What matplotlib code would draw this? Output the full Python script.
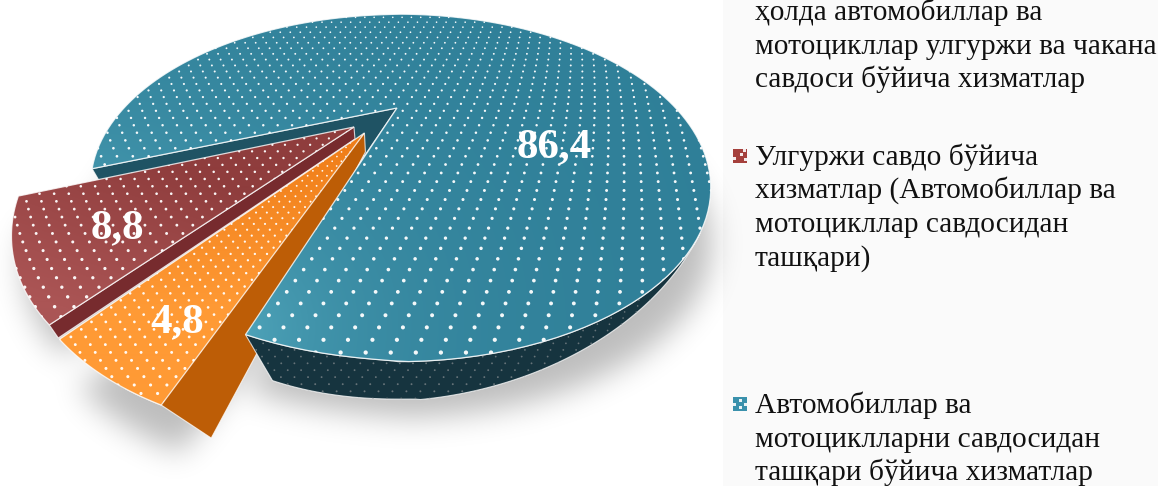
import numpy as np
import matplotlib
matplotlib.use("Agg")
import matplotlib.pyplot as plt
from matplotlib.patches import Polygon, Rectangle
from matplotlib.path import Path

# ---------- data ----------
slice_names = ["Автомобиллар савдоси", "Улгуржи савдо", "Автомобиллар ва мотоцикллар"]
values = [4.8, 8.8, 86.4]            # clockwise, orange first
value_labels = ["4,8", "8,8", "86,4"]
legend_first = ["ҳолда автомобиллар ва", "мотоцикллар улгуржи ва чакана", "савдоси бўйича хизматлар"]
legend_second = ["Улгуржи савдо бўйича", "хизматлар (Автомобиллар ва", "мотоцикллар савдосидан", "ташқари)"]
legend_third = ["Автомобиллар ва", "мотоциклларни савдосидан", "ташқари бўйича хизматлар"]

W, H = 1159, 486
SERIF = "Liberation Serif"

# ---------- projection of the tilted disc ----------
CX, CY, A, B, P = 397.0, 108.0, 278.6, 137.0, 0.46


def project(u, v):
    u, v = np.asarray(u, float), np.asarray(v, float)
    w = 1 - P * v
    return CX + A * u / w, CY + B * v / w


def disc(theta, r=1.0, origin=(0.0, 0.0)):
    t = np.radians(theta)
    return origin[0] + r * np.sin(t), origin[1] - r * np.cos(t)


def blue_radius(theta):
    """The big slice is drawn slightly flattened on its left side."""
    return 1 - 0.02 * np.sqrt(np.clip(-np.sin(np.radians(theta)), 0, 1))


def wedge_xy(t0, t1, r, origin):
    th = np.linspace(t0, t1, 160)
    rr = r(th) if callable(r) else r
    x, y = project(*disc(th, rr, origin))
    ax_, ay_ = project(*origin)
    return np.column_stack([np.r_[ax_, x], np.r_[ay_, y]])


START = 199.0
BLUE_TRIM = 0.8
spans = np.array(values) / sum(values) * 360
edges = START + np.r_[0, np.cumsum(spans)]
orange_t = (edges[0], edges[1])
red_t = (edges[1], edges[2])
blue_t = (edges[2], edges[3] - BLUE_TRIM)

explode = [0.20, 0.195, 0.0]
explode_dir = [5.0, -4.0, 0.0]
orig = []
for i in range(3):
    m = (edges[i] + edges[i + 1]) / 2 + explode_dir[i]
    orig.append(disc(m, explode[i]))

RADII = [0.97, 0.975, blue_radius]
orange_xy = wedge_xy(*orange_t, RADII[0], orig[0])
red_xy = wedge_xy(*red_t, RADII[1], orig[1])
blue_xy = wedge_xy(*blue_t, RADII[2], orig[2])

fig = plt.figure(figsize=(W / 100, H / 100), dpi=100, facecolor="white")
ax = fig.add_axes([0, 0, 1, 1])
ax.axis("off")
ax.add_patch(Rectangle((723, 0), 435, H, fc="#fafafa", ec="none", zorder=0))

# ---------- soft shadow ----------
STEP = 2
gx, gy = np.meshgrid(np.arange(0, W, STEP) + 1.0, np.arange(0, H + 80, STEP) + 1.0)
pts = np.column_stack([gx.ravel(), gy.ravel()])


def blur(a, sig):
    r = int(3 * sig)
    k = np.exp(-0.5 * (np.arange(-r, r + 1) / sig) ** 2)
    k /= k.sum()
    a = np.apply_along_axis(lambda m: np.convolve(m, k, mode="same"), 0, a)
    return np.apply_along_axis(lambda m: np.convolve(m, k, mode="same"), 1, a)


mask = np.zeros(gx.shape)
for poly, (dx, dy) in [(blue_xy, (2, 56)), (red_xy, (12, 30)), (orange_xy, (20, 48))]:
    inside = Path(poly + [dx, dy]).contains_points(pts).reshape(gx.shape)
    mask = np.maximum(mask, inside.astype(float))
mask = blur(mask, 7.5)   # grid cells, so about 15 px
shadow = np.zeros(mask.shape + (4,))
shadow[..., 3] = mask * 0.26
ax.imshow(shadow, extent=(0, W, H + 80, 0), zorder=1, interpolation="bilinear", aspect="auto")

# ---------- gradient helpers ----------
yy, xx = np.mgrid[0:H, 0:W]


def rgb(c):
    return np.array(matplotlib.colors.to_rgb(c))


def gradient(c0, c1, t, zorder, poly_xy, edge=True):
    t = np.clip(t, 0, 1)[..., None]
    img = rgb(c0) * (1 - t) + rgb(c1) * t
    im = ax.imshow(img, extent=(0, W, H, 0), zorder=zorder, interpolation="bilinear", aspect="auto")
    patch = Polygon(poly_xy, closed=True, fc="none",
                    ec=(1, 1, 1, 0.8) if edge else "none", lw=0.9, zorder=zorder + 0.2)
    ax.add_patch(patch)
    im.set_clip_path(patch)
    return patch


def dots(patch, d0, k, y0, zorder, color="white", frac=0.16, alpha=0.95, x0=397.0):
    """Staggered texture that widens towards the viewer."""
    xs, ys, ss = [], [], []
    y, row = y0, 0
    while y < 470:
        dx = d0 + k * y
        n = int(800 / dx)
        xr = x0 + (np.arange(-n, n + 1) + 0.5 * (row % 2)) * dx + (y - 190) * 0.02 * dx
        xs.append(xr)
        ys.append(np.full(xr.shape, y))
        ss.append(np.full(xr.shape, (dx * frac * 0.72) ** 2))
        y += dx * 0.52
        row += 1
    sc = ax.scatter(np.concatenate(xs), np.concatenate(ys), s=np.concatenate(ss), c=color,
                    alpha=alpha, linewidths=0, zorder=zorder)
    sc.set_clip_path(patch)


def solid(poly_xy, color, zorder, edge=True):
    p = Polygon(poly_xy, closed=True, fc=color, ec=(1, 1, 1, 0.75) if edge else color,
                lw=0.8 if edge else 0.3, zorder=zorder)
    ax.add_patch(p)
    return p


# ---------- blue inner wall ----------
b_left = blue_xy[1]
b_apex = np.array(project(0, 0))
solid([b_apex, b_left, b_left + [7, 12], b_apex + [-32, 47]], "#1f5364", 2)

# ---------- orange side wall ----------
o_arc = np.column_stack(project(*disc(np.linspace(orange_t[0] + 5, orange_t[0], 20), RADII[0], orig[0])))
o_apex = np.array(project(*orig[0]))
o_wall = np.vstack([o_apex, o_arc, o_arc[-1] + [50, 33], o_apex + [1, 19]])
solid(o_wall, "#bd5d06", 3)

# ---------- blue outer wall ----------
TH_A, TH_B = 130.0, blue_t[1] - 360
th = np.linspace(TH_A, TH_B, 120)
tx, ty = project(*disc(th, blue_radius(th)))
s = (th - TH_A) / (TH_B - TH_A)
sm = 3 * s ** 2 - 2 * s ** 3
wall = np.vstack([np.column_stack([tx, ty]), np.column_stack([tx + 27 * sm, ty + 46 * sm])[::-1]])
wp = solid(wall, "#16343f", 4)
dots(wp, 3.0, 0.028, 300.0, 4.1, color="#7b8488", frac=0.14, alpha=0.8, x0=420.0)

# ---------- blue top ----------
d = np.hypot(xx - 235, yy - 330)
t_blue = 0.85 * np.exp(-d / 130.0) + 0.30 * np.exp(-np.hypot(xx - 100, yy - 170) / 90.0)
bp = gradient("#2f7f98", "#55abc0", t_blue, 5, blue_xy)
dots(bp, 8.5, 0.047, 8.0, 5.5, frac=0.17)

# ---------- red wall and top ----------
r_apex = np.array(project(*orig[1]))
r_low = np.array(project(*disc(red_t[0], RADII[1], orig[1])))
solid([r_apex, r_low, r_low + [9, 13], r_apex + [1, 12]], "#772b2e", 6)
t_red = (yy - 150) / 180.0 + (130 - xx) / 500.0
rp = gradient("#8f3d3d", "#ab5555", t_red, 7, red_xy)
dots(rp, 6.5, 0.042, 120.0, 7.5, frac=0.18)

# ---------- orange top ----------
t_or = (yy - 140) / 170.0
op = gradient("#ef7d18", "#ff9a35", t_or, 8, orange_xy)
dots(op, 4.0, 0.032, 130.0, 8.5, frac=0.19)

# ---------- value labels ----------
label_pos = [(177, 322), (117, 228), (554, 147)]
for txt, (lx, ly) in zip(value_labels, label_pos):
    ax.text(lx, ly, txt, color="white", family=SERIF, weight="bold", fontsize=31,
            ha="center", va="center", zorder=12)

# ---------- legend ----------
for lines, y0 in [(legend_first, 20), (legend_second, 164.5), (legend_third, 413)]:
    for i, line in enumerate(lines):
        ax.text(755, y0 + i * 33.6, line, family=SERIF, fontsize=21.2, color="#111111",
                ha="left", va="baseline", zorder=12)

for y0, col, notch in [(148.5, "#a5403c", [(743, 148.5), (739.5, 153), (744, 157.5), (733, 157)]),
                       (397, "#3a91ac", [(739, 399), (739, 406), (733, 402.5), (744, 402.5)])]:
    ax.add_patch(Rectangle((733, y0), 14, 14, fc=col, ec="none", zorder=12))
    for nx, ny in notch:
        ax.add_patch(Rectangle((nx, ny), 3, 3, fc="white", ec="none", alpha=0.9, zorder=13))

ax.set_xlim(0, W)
ax.set_ylim(H, 0)
fig.savefig("out.png", dpi=100, facecolor="white")
